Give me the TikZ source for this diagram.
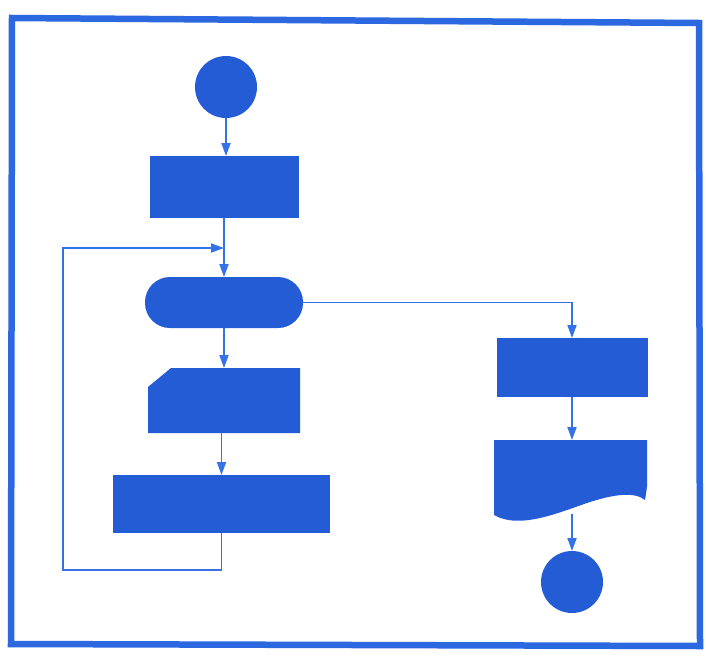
\documentclass[tikz,border=0pt]{standalone}
\usetikzlibrary{arrows.meta}
\definecolor{fb}{RGB}{36,92,214}
\definecolor{fl}{RGB}{52,114,230}
\definecolor{ff}{RGB}{44,104,224}
\begin{document}
\begin{tikzpicture}[x=1pt,y=-1pt,
  shp/.style={fill=fb,draw=none,inner sep=0pt,outer sep=0pt},
  box/.style={shp,rectangle},
  disc/.style={shp,circle,minimum size=62pt},
  conn/.style={draw=fl,line width=1.8pt,-{Triangle[length=13pt,width=9pt]}},
  plain/.style={draw=fl,line width=1.8pt}]
\useasboundingbox (0,0) rectangle (706,656);
\fill[white] (0,0) rectangle (706,656);
% frame
\draw[ff,line width=6.5pt,line join=miter] (12,18) -- (699,23) -- (700,646) -- (11,644) -- cycle;
% nodes
\node[disc] (start) at (226,87) {};
\node[box,minimum width=149pt,minimum height=62pt] (r1) at (224,187) {};
\node[box,minimum width=158pt,minimum height=51pt,rounded corners=25pt] (term) at (224,302.5) {};
\node[inner sep=0pt,outer sep=0pt,minimum width=152pt,minimum height=65pt] (card) at (224,400.5) {};
\fill[fb] ([yshift=-19pt]card.north west) -- ([xshift=23pt]card.north west) -- (card.north east) -- (card.south east) -- (card.south west) -- cycle;
\node[box,minimum width=217pt,minimum height=58pt] (r3) at (221.5,504) {};
\node[box,minimum width=151pt,minimum height=59pt] (r4) at (572,367.5) {};
\coordinate (dtop) at (572,440);
\coordinate (dbot) at (572,514);
\fill[fb] (494,440) -- (647,440) -- (647,487) -- (645,500)
  .. controls (634,491) and (612,495) .. (590,502)
  .. controls (560,512) and (520,530) .. (494,515) -- cycle;
\node[disc] (endc) at (572,582) {};
\coordinate (jn) at (224,248);
% connectors
\draw[conn] (start) -- (start |- r1.north);
\draw[conn] (r1.south) -- (term.north);
\draw[conn] (term.south) -- (card.north);
\draw[conn] (card.south -| r3.south) -- (r3.north);
\draw[conn] (r3.south) |- (63,570) |- (jn);
\draw[conn] (term.east) -| (r4.north);
\draw[conn] (r4.south) -- (dtop);
\draw[conn] (dbot) -- (endc.north);
\end{tikzpicture}
\end{document}
